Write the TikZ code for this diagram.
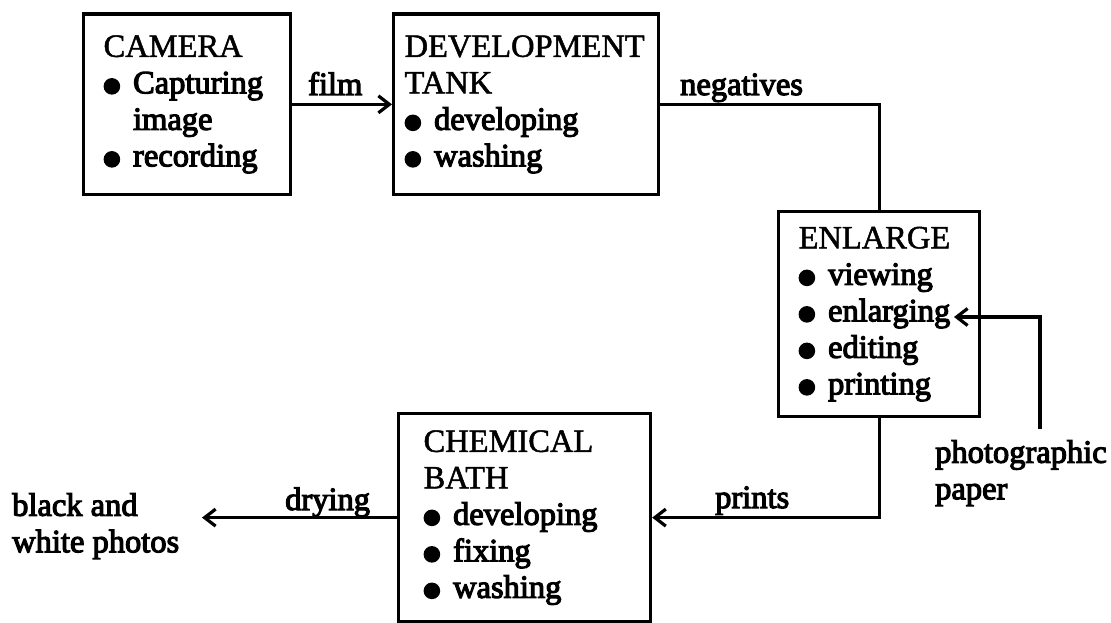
\documentclass[tikz,border=0pt]{standalone}
\usepackage{fontspec}
\setmainfont[FakeBold=1.5]{Liberation Serif}
\newfontfamily\heavyserif[FakeBold=3.5]{Liberation Serif}
\usetikzlibrary{arrows.meta}
\newcommand\bul{\makebox[29.5pt][l]{\tikz[baseline=0pt]\fill (8.5pt,7pt) circle[radius=8.3pt];}}
\newcommand\contind{\hspace*{29.5pt}}
\hyphenpenalty=10000
\exhyphenpenalty=10000
\begin{document}
\begin{tikzpicture}[x=1pt,y=-1pt,
  box/.style={draw, line width=3.2pt, rectangle, anchor=north west, align=left,
    inner ysep=0pt, font=\fontsize{32.5}{36.5}\selectfont},
  lbl/.style={anchor=base west, inner sep=0pt, font=\fontsize{32.5}{36.5}\selectfont\heavyserif},
  lbltwo/.style={anchor=north west, inner sep=0pt, align=left, font=\fontsize{32.5}{36.5}\selectfont\heavyserif},
  conn/.style={line width=3.2pt},
  arr/.style={conn, -{Straight Barb[length=11pt,width=17pt]}},
]
\fill[white] (0,0) rectangle (1111,623);
\useasboundingbox (0,0) rectangle (1111,623);

\node[box, minimum width=207pt, minimum height=180.5pt, text width=167pt, inner xsep=20pt] (cam) at (82,12.5)
  {CAMERA\\ \heavyserif\bul Capturing\\ \contind image\\ \bul recording};
\node[box, minimum width=265pt, minimum height=180.5pt, text width=243pt, inner xsep=11pt] (dev) at (392,12.5)
  {DEVELOPMENT\\ TANK\\ \heavyserif\bul developing\\ \bul washing};
\node[box, minimum width=201pt, minimum height=205pt, text width=161pt, inner xsep=20pt] (enl) at (777,210)
  {ENLARGE\\ \heavyserif\bul viewing\\ \bul enlarging\\ \bul editing\\ \bul printing};
\node[box, minimum width=252pt, minimum height=208pt, text width=202pt, inner xsep=25pt] (chem) at (397,412)
  {CHEMICAL\\ BATH\\ \heavyserif\bul developing\\ \bul fixing\\ \bul washing};

\node[lbl] (film) at (308,95) {film};
\node[lbl] (neg) at (680,95) {negatives};
\node[lbl] (prints) at (715,508) {prints};
\node[lbl] (drying) at (285,510) {drying};
\node[lbltwo] (bw) at (12,493) {black and\\white photos};
\node[lbltwo] (paper) at (935,440) {photographic\\paper};

\coordinate (drytip) at (202,518);
\coordinate (ppstart) at (1040,429);
\coordinate (entip) at (954,317);

\draw[arr] (cam.east) -- (dev.west);
\draw[conn] (dev.east) -| (enl.north);
\draw[arr] (enl.south) |- (chem.east);
\draw[arr] (chem.west) -- (chem.west -| drytip);
\draw[arr] (ppstart) |- (entip);
\end{tikzpicture}
\end{document}
